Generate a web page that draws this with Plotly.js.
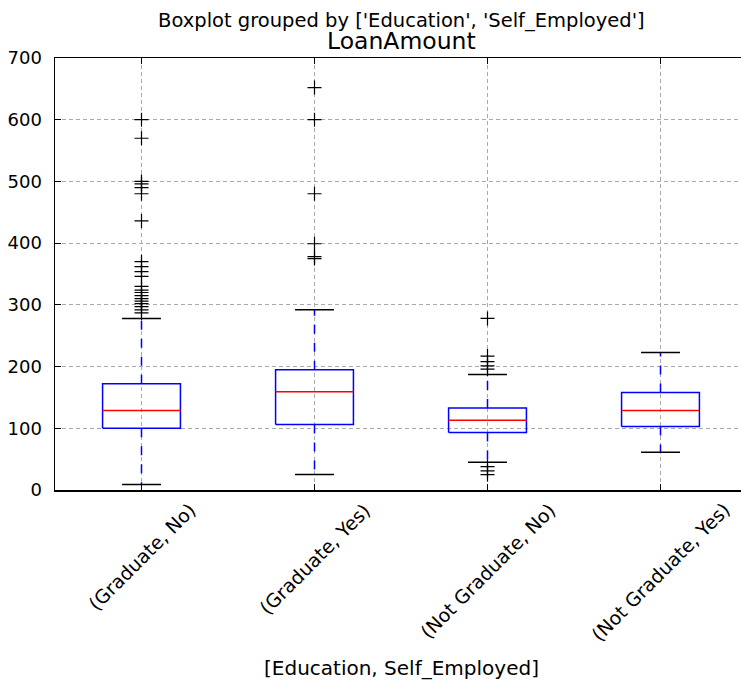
<!DOCTYPE html>
<html><head><meta charset="utf-8">
<script src="https://cdn.plot.ly/plotly-3.0.1.min.js"></script>
<style>html,body{margin:0;padding:0;overflow:hidden;background:#fff}</style>
</head><body><div id="chart" style="width:752px;height:682px"></div>
<script>
// ---- data ----
const categories = ["(Graduate, No)", "(Graduate, Yes)", "(Not Graduate, No)", "(Not Graduate, Yes)"];
const q1 = [100, 106, 93, 103];
const medians = [129, 159, 113, 129];
const q3 = [172, 195, 133, 158];
const whiskerLow = [9, 25, 45, 61];
const whiskerHigh = [278, 292, 187, 223];
const outliersGradNo = [600, 570, 500, 496, 490, 480, 436, 370, 362, 354, 346, 330, 324, 320, 315, 310, 306, 302, 297, 292, 287];
const outliersGradYes = [652, 600, 480, 399, 378, 375];
const outliersNotGradNo = [278, 217, 208, 201, 196, 38, 31, 25];
const outliersNotGradYes = [];
const outliers = [outliersGradNo, outliersGradYes, outliersNotGradNo, outliersNotGradYes];
const yTicks = [0, 100, 200, 300, 400, 500, 600, 700];
const suptitle = "Boxplot grouped by ['Education', 'Self_Employed']";
const plotTitle = "LoanAmount";
const xTitle = "[Education, Self_Employed]";

// ---- build geometry through data coordinates ----
const boxHalf = 0.225, capHalf = 0.1125;
const box = {x: [], y: []}, med = {x: [], y: []}, wh = {x: [], y: []}, cap = {x: [], y: []}, fl = {x: [], y: []};
categories.forEach((c, i) => {
  const p = i + 1;
  box.x.push(p - boxHalf, p + boxHalf, p + boxHalf, p - boxHalf, p - boxHalf, null);
  box.y.push(q1[i], q1[i], q3[i], q3[i], q1[i], null);
  med.x.push(p - boxHalf, p + boxHalf, null);
  med.y.push(medians[i], medians[i], null);
  wh.x.push(p, p, null, p, p, null);
  wh.y.push(q1[i], whiskerLow[i], null, q3[i], whiskerHigh[i], null);
  cap.x.push(p - capHalf, p + capHalf, null, p - capHalf, p + capHalf, null);
  cap.y.push(whiskerLow[i], whiskerLow[i], null, whiskerHigh[i], whiskerHigh[i], null);
  outliers[i].forEach(v => { fl.x.push(p); fl.y.push(v); });
});

const font = "DejaVu Sans, Liberation Sans, sans-serif";
const traces = [
  {type: 'scatter', mode: 'lines', x: wh.x, y: wh.y, line: {color: '#0000ff', width: 1.5, dash: 'dash'}},
  {type: 'scatter', mode: 'lines', x: cap.x, y: cap.y, line: {color: '#000000', width: 1.5}},
  {type: 'scatter', mode: 'lines', x: box.x, y: box.y, line: {color: '#0000ff', width: 1.5}},
  {type: 'scatter', mode: 'lines', x: med.x, y: med.y, line: {color: '#ff0000', width: 1.5}},
  {type: 'scatter', mode: 'markers', x: fl.x, y: fl.y,
   marker: {symbol: 'cross-thin-open', size: 10, color: '#000', line: {color: '#000', width: 1.2}}}
];

const axisCommon = {
  showline: true, linecolor: '#000', linewidth: 1.5, mirror: 'ticks',
  ticks: 'inside', ticklen: 6, tickwidth: 1, tickcolor: '#000',
  showgrid: true, gridcolor: '#aaaaaa', gridwidth: 1, griddash: '4px,3px',
  zeroline: false, fixedrange: true
};

const annotations = categories.map((c, i) => ({
  text: c, xref: 'x', yref: 'paper', x: i + 1, y: 0, yshift: -6,
  xanchor: 'center', yanchor: 'top', textangle: -45, showarrow: false,
  font: {family: font, size: 19, color: '#000'}
}));
annotations.push({text: suptitle, xref: 'paper', yref: 'paper', x: 0.5, y: 1.086,
  xanchor: 'center', yanchor: 'middle', showarrow: false, font: {family: font, size: 19.5, color: '#000'}});
annotations.push({text: plotTitle, xref: 'paper', yref: 'paper', x: 0.5, y: 1.039,
  xanchor: 'center', yanchor: 'middle', showarrow: false, font: {family: font, size: 23.5, color: '#000'}});
annotations.push({text: xTitle, xref: 'paper', yref: 'paper', x: 0.5, y: -0.412,
  xanchor: 'center', yanchor: 'middle', showarrow: false, font: {family: font, size: 20, color: '#000'}});

const layout = {
  width: 752, height: 682,
  margin: {l: 55, r: 5, t: 58, b: 192},
  paper_bgcolor: '#fff', plot_bgcolor: '#fff',
  showlegend: false, hovermode: false,
  font: {family: font, size: 18, color: '#000'},
  xaxis: Object.assign({}, axisCommon, {range: [0.5, 4.5], tickvals: [1, 2, 3, 4], showticklabels: false}),
  yaxis: Object.assign({}, axisCommon, {range: [0, 700], tickvals: yTicks, ticklabelstandoff: 8,
    tickfont: {family: font, size: 18, color: '#000'}}),
  annotations: annotations
};

Plotly.newPlot('chart', traces, layout, {staticPlot: true, displayModeBar: false});
</script></body></html>
